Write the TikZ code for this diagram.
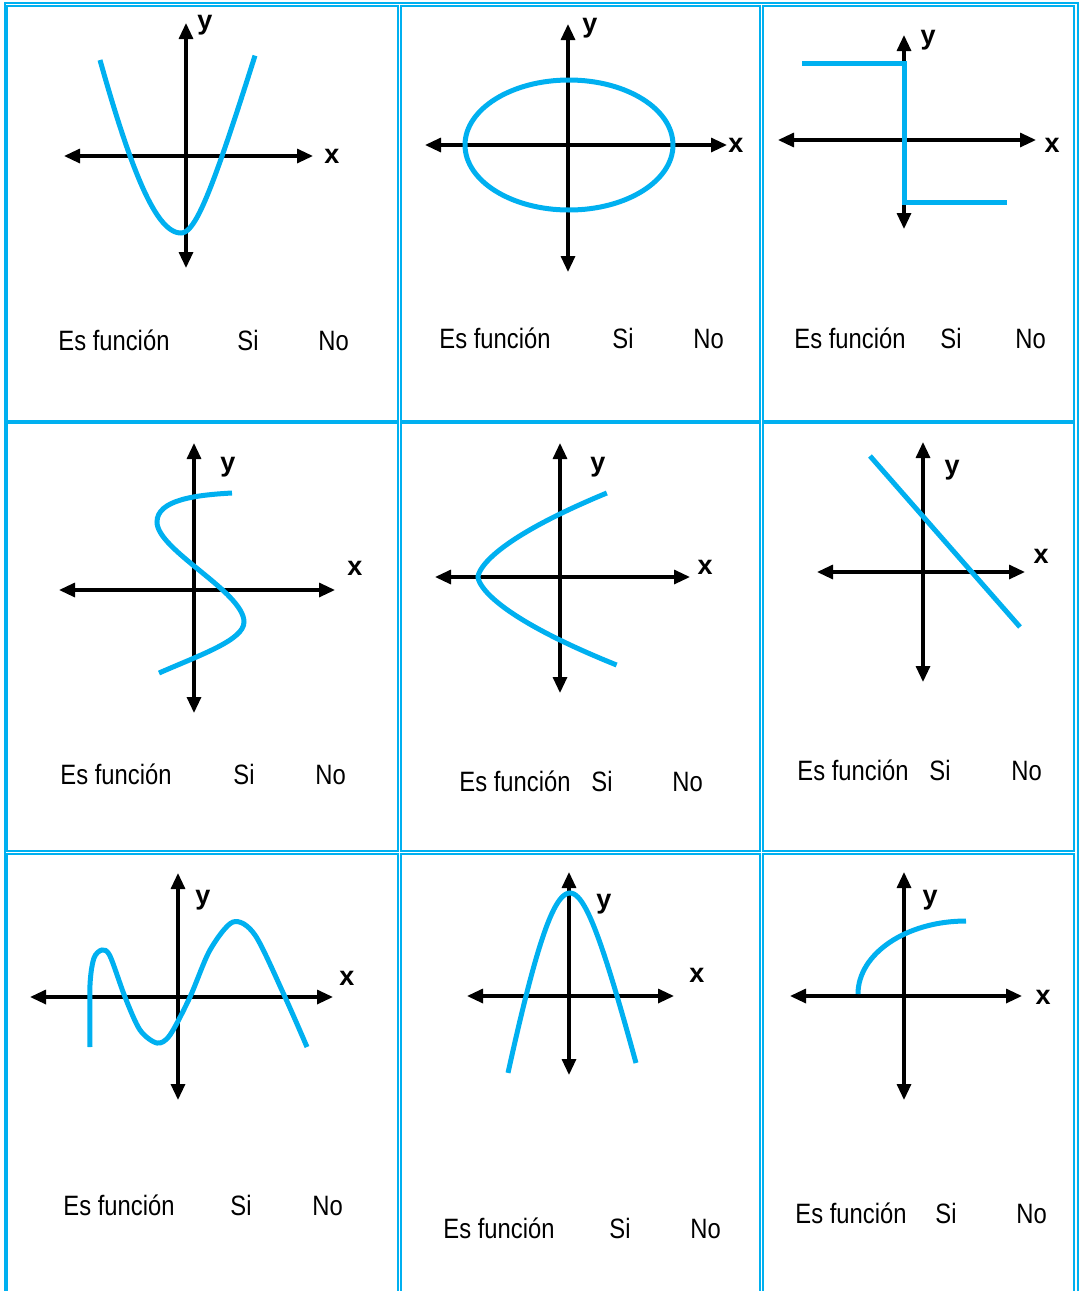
\documentclass[tikz,border=0pt]{standalone}
\usepackage{fontspec}
\setmainfont{Liberation Sans}
\newfontfamily\narrowfont[FakeStretch=0.85]{Liberation Sans}
\usetikzlibrary{arrows.meta,positioning}
\definecolor{tablecyan}{RGB}{0,176,240}

\begin{document}
\begin{tikzpicture}[x=0.5pt, y=-0.5pt,
  gridline/.style={draw=tablecyan, line width=1pt},
  axis/.style={{Triangle[length=8pt,width=7pt]}-{Triangle[length=8pt,width=7pt]}, line width=1.6pt},
  graph/.style={draw=tablecyan, line width=2.5pt},
  axislabel/.style={font=\bfseries\fontsize{13.5}{14}\selectfont, inner sep=0pt},
  answer/.style={font=\narrowfont\fontsize{14}{16}\selectfont, anchor=base west, inner sep=0pt}]
\useasboundingbox (0,0) rectangle (1081,1291);
% table borders
\draw[gridline] (4.5,2.5) rectangle (1077.7,1300);
\foreach \xa/\xb in {6.5/397.7, 401/760.2, 763.3/1073.7}
  \foreach \ya/\yb in {5.7/421, 422.5/850.6, 853.6/1300}
    \draw[gridline] (\xa,\ya) rectangle (\xb,\yb);
% axes and labels
\foreach \cx/\cy/\l/\r/\t/\b/\yx/\yy/\xx/\xy [count=\i] in {
  186/156/64/313/23/268/205/25/332/156,
  568/145/425/727/24/272/590/28/736/145,
  904/140/778/1036/35/229/928/40/1052/145,
  194/590/59/335/443/713/228/467/355/568,
  560/577/435/690/443/693/598/467/705/567,
  923/572/817/1025/442/682/952/470/1041/556,
  178/997/30/333/873/1100/203/900/347/978,
  569/996/467/674/872/1075/604/904/697/975,
  904/996/790/1022/872/1100/930/900/1043/997}{
  \draw[axis] (\l,\cy) -- (\r,\cy);
  \draw[axis] (\cx,\t) -- (\cx,\b);
  \node[axislabel] (ylab\i) at (\yx,\yy) {y};
  \node[axislabel] (xlab\i) at (\xx,\xy) {x};
}
% graphs
\draw[graph] plot[domain=-81:0, samples=41, variable=\t] ({181+\t},{233-4.8*(sqrt(\t*\t+5329)-73)})
  -- plot[domain=0:74, samples=38, variable=\t] ({181+\t},{233-3.34*(sqrt(\t*\t+625)-25)});
\draw[graph] (569,145) ellipse [x radius=104, y radius=65];
\draw[graph] (802,63) -- (904,63) -- (904,202) -- (1007,202);
\draw[graph] (232,493) .. controls (195,495) and (157,500) .. (157,522)
  .. controls (157,550) and (244,592) .. (244,622)
  .. controls (244,640) and (200,655) .. (159,673);
\draw[graph] plot[domain=-84:88, samples=87, variable=\t] ({478+0.12*pow(abs(\t)+0.01,1.575)},{577+\t});
\draw[graph] (870,456) -- (1020,627);
\draw[graph] plot[smooth] coordinates {(90,1047) (90,985) (94,958) (102,950) (110,956) (125,997) (140,1030) (157,1043) (170,1035) (190,997) (210,950) (233,922) (255,935) (285,997) (307,1047)};
\draw[graph] plot[domain=-62:0, samples=32, variable=\t] ({570+\t},{893+5.47*(sqrt(\t*\t+1764)-42)})
  -- plot[domain=0:66, samples=34, variable=\t] ({570+\t},{893+4.0*(sqrt(\t*\t+900)-30)});
\draw[graph] (858,994) arc[start angle=180, end angle=270, x radius=108, y radius=73];
% answers
\foreach \a/\b/\c/\base [count=\i] in {58/237/318/350, 439/612/693/348, 794/940/1015/348,
  60/233/315/784, 459/591/672/791, 797/929/1011/780,
  63/230/312/1215, 443/609/690/1238, 795/935/1016/1223}{
  \node[answer] (es\i) at (\a,\base) {Es función};
  \node[answer] (si\i) at (\b,\base) {Si};
  \node[answer] (no\i) at (\c,\base) {No};
}
\end{tikzpicture}
\end{document}
